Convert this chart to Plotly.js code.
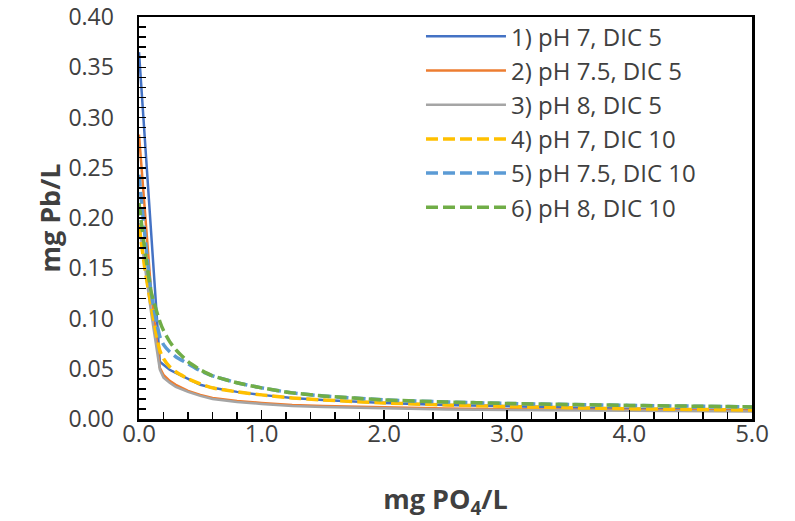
<!DOCTYPE html>
<html>
<head>
<meta charset="utf-8">
<script src="https://cdn.plot.ly/plotly-3.0.1.min.js"></script>
<style>html,body{margin:0;padding:0;background:#fff;}#chart{width:795px;height:521px;}</style>
</head>
<body>
<div id="chart"></div>
<script>
// mg PO4/L
const xPO4 = [0, 0.05, 0.1, 0.17, 0.2, 0.25, 0.3, 0.4, 0.5, 0.6, 0.8, 1.0, 1.25, 1.5, 2.0, 2.5, 3.0, 3.5, 4.0, 4.5, 5.0];
// mg Pb/L for each scenario
const pb1_pH7_DIC5   = [0.365, 0.275, 0.185, 0.057, 0.054, 0.049, 0.046, 0.040, 0.034, 0.031, 0.027, 0.024, 0.021, 0.019, 0.016, 0.014, 0.0125, 0.0112, 0.0102, 0.0095, 0.009];
const pb2_pH75_DIC5  = [0.283, 0.205, 0.125, 0.051, 0.044, 0.038, 0.034, 0.028, 0.024, 0.021, 0.018, 0.016, 0.014, 0.013, 0.0115, 0.0105, 0.0098, 0.0093, 0.009, 0.0087, 0.0085];
const pb3_pH8_DIC5   = [0.195, 0.150, 0.105, 0.049, 0.041, 0.036, 0.032, 0.027, 0.023, 0.020, 0.017, 0.015, 0.013, 0.012, 0.0105, 0.0095, 0.009, 0.0085, 0.008, 0.0078, 0.0075];
const pb4_pH7_DIC10  = [0.193, 0.148, 0.112, 0.068, 0.060, 0.052, 0.047, 0.040, 0.035, 0.031, 0.027, 0.024, 0.021, 0.019, 0.016, 0.014, 0.0125, 0.0112, 0.0102, 0.0095, 0.009];
const pb5_pH75_DIC10 = [0.243, 0.180, 0.125, 0.082, 0.074, 0.067, 0.062, 0.055, 0.048, 0.043, 0.036, 0.031, 0.026, 0.023, 0.019, 0.017, 0.0155, 0.0145, 0.0135, 0.0128, 0.012];
const pb6_pH8_DIC10  = [0.215, 0.166, 0.126, 0.097, 0.088, 0.077, 0.069, 0.057, 0.049, 0.043, 0.036, 0.031, 0.026, 0.023, 0.019, 0.017, 0.0155, 0.0145, 0.0135, 0.0128, 0.012];

const seriesNames = ['1) pH 7, DIC 5', '2) pH 7.5, DIC 5', '3) pH 8, DIC 5', '4) pH 7, DIC 10', '5) pH 7.5, DIC 10', '6) pH 8, DIC 10'];
const seriesY = [pb1_pH7_DIC5, pb2_pH75_DIC5, pb3_pH8_DIC5, pb4_pH7_DIC10, pb5_pH75_DIC10, pb6_pH8_DIC10];
const seriesColors = ['#4472C4', '#ED7D31', '#A5A5A5', '#FFC000', '#5B9BD5', '#70AD47'];
const seriesDash = ['solid', 'solid', 'solid', '12px,5px', '12px,5px', '12px,5px'];
const seriesWidth = [2.5, 2.5, 2.5, 3.5, 3.5, 3.5];

const FONT = '"Open Sans", Lato, sans-serif';
const TXT = '#404040';
const traces = seriesY.map((y, i) => ({
  type: 'scatter', mode: 'lines', x: xPO4, y: y, name: seriesNames[i],
  line: {color: seriesColors[i], width: seriesWidth[i], dash: seriesDash[i], shape: i < 3 ? 'linear' : 'spline', smoothing: 0.6}
}));

const layout = {
  width: 795, height: 521,
  margin: {l: 139, r: 43, t: 17, b: 102},
  paper_bgcolor: '#ffffff', plot_bgcolor: '#ffffff',
  font: {family: FONT, size: 22, color: TXT},
  showlegend: true,
  legend: {x: 0.46, y: 1.007, xanchor: 'left', yanchor: 'top', bgcolor: 'rgba(0,0,0,0)',
           font: {family: FONT, size: 24, color: TXT}, itemwidth: 80, tracegroupgap: 0},
  xaxis: {
    range: [0, 5], dtick: 1, tick0: 0, tickformat: '.1f',
    showline: true, mirror: true, linecolor: '#000', linewidth: 2.5,
    ticks: 'inside', ticklen: 9, tickwidth: 1.5, tickcolor: '#000',
    minor: {dtick: 0.2, ticks: 'inside', ticklen: 7, tickwidth: 1.5, tickcolor: '#000'},
    showgrid: false, zeroline: false,
    tickfont: {family: FONT, size: 24, color: TXT},
    ticklabelstandoff: -8, ticklabeloverflow: 'allow',
    title: {text: '<b>mg PO<sub>4</sub>/L</b>', font: {family: FONT, size: 27, color: TXT}, standoff: 42}
  },
  yaxis: {
    range: [0, 0.4], dtick: 0.05, tick0: 0, tickformat: '.2f',
    showline: true, mirror: true, linecolor: '#000', linewidth: 2.5,
    ticks: 'inside', ticklen: 7, tickwidth: 1.5, tickcolor: '#000',
    minor: {dtick: 0.01, ticks: 'inside', ticklen: 7, tickwidth: 1.5, tickcolor: '#000'},
    showgrid: false, zeroline: false,
    tickfont: {family: FONT, size: 23, color: TXT},
    ticklabelstandoff: 18, ticklabeloverflow: 'allow',
    title: {text: '<b>mg Pb/L</b>', font: {family: FONT, size: 27, color: TXT}, standoff: 0}
  }
};
Plotly.newPlot('chart', traces, layout, {displayModeBar: false, staticPlot: true});
</script>
</body>
</html>
